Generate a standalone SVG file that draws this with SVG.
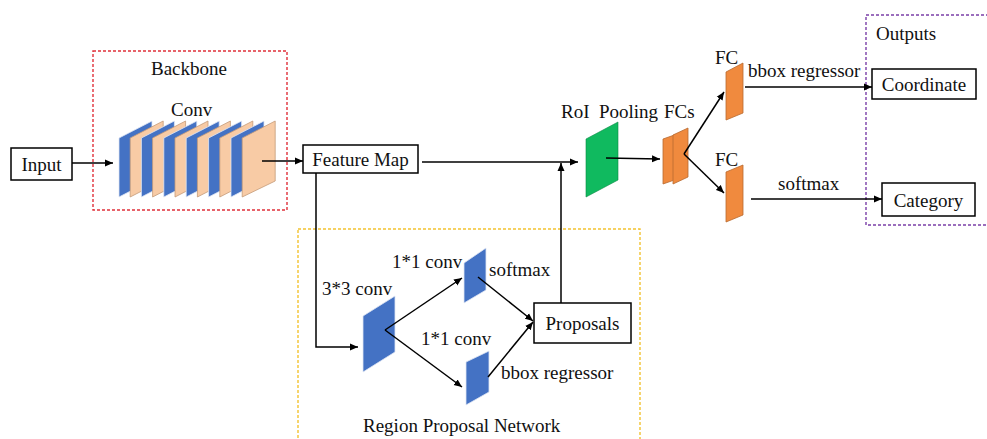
<svg xmlns="http://www.w3.org/2000/svg" width="987" height="439" viewBox="0 0 987 439">
<defs>
<marker id="ah" markerUnits="userSpaceOnUse" markerWidth="9" markerHeight="8" refX="8" refY="4" orient="auto">
<path d="M0,0.5 L8,4 L0,7.5 z" fill="#000"/>
</marker>
<style>
text{font-family:"Liberation Serif","Times New Roman",serif;font-size:19px;fill:#111}
.box{fill:#fff;stroke:#000;stroke-width:1.5}
.con{fill:none;stroke:#000;stroke-width:1.5;marker-end:url(#ah)}
.blue{fill:#4472C4;stroke:#dfe6f4;stroke-width:0.8}
.peach{fill:#F8CBA5;stroke:#c49a78;stroke-width:0.8}
.orange{fill:#F08A3E;stroke:#b86a30;stroke-width:0.8}
.green{fill:#10BA5F;stroke:#0b8a45;stroke-width:0.6}
.mid{text-anchor:middle}
</style>
</defs>
<rect width="987" height="439" fill="#fff"/>

<g id="backbone">
<rect x="93" y="51" width="194" height="159" fill="none" stroke="#E0303A" stroke-width="1.4" stroke-dasharray="3,2"/>
<text x="151" y="75">Backbone</text>
</g>
<g id="rpn">
<rect x="298" y="229" width="342" height="230" fill="none" stroke="#F2C230" stroke-width="1.4" stroke-dasharray="3,2"/>
<text x="363" y="432">Region Proposal Network</text>
</g>
<g id="outputs">
<rect x="866" y="15" width="140" height="210" fill="none" stroke="#7B3FA8" stroke-width="1.4" stroke-dasharray="3,2"/>
<text x="876" y="40">Outputs</text>
</g>

<g id="input">
<rect class="box" x="11" y="148" width="61" height="32"/>
<text class="mid" x="41.5" y="171">Input</text>
</g>

<g id="conv">
<text x="171" y="116">Conv</text>
<polygon class="blue" points="119,138 152,121 152,180 119,197"/>
<polygon class="peach" points="130.2,138 163.2,121 163.2,180 130.2,197"/>
<polygon class="blue" points="141.4,138 174.4,121 174.4,180 141.4,197"/>
<polygon class="peach" points="152.6,138 185.6,121 185.6,180 152.6,197"/>
<polygon class="blue" points="163.8,138 196.8,121 196.8,180 163.8,197"/>
<polygon class="peach" points="175,138 208,121 208,180 175,197"/>
<polygon class="blue" points="186.2,138 219.2,121 219.2,180 186.2,197"/>
<polygon class="peach" points="197.4,138 230.4,121 230.4,180 197.4,197"/>
<polygon class="blue" points="208.6,138 241.6,121 241.6,180 208.6,197"/>
<polygon class="peach" points="219.8,138 252.8,121 252.8,180 219.8,197"/>
<polygon class="blue" points="231,138 264,121 264,180 231,197"/>
<polygon class="peach" points="242.2,138 275.2,121 275.2,181 242.2,197"/>
</g>

<g id="feature-map">
<rect class="box" x="303" y="145" width="115" height="28"/>
<text class="mid" x="360.5" y="166">Feature Map</text>
</g>

<g id="conv3x3">
<polygon class="blue" points="363,316 395,296 395,352 363,372"/>
<text x="322" y="295">3*3 conv</text>
</g>
<g id="cls-conv">
<polygon class="blue" points="464,263 486,248 486,290 464,303"/>
<text x="392" y="268">1*1 conv</text>
<text x="489" y="276">softmax</text>
</g>
<g id="reg-conv">
<polygon class="blue" points="466,362 489,351 489,392 466,405"/>
<text x="421" y="345">1*1 conv</text>
<text x="501" y="379">bbox regressor</text>
</g>
<g id="proposals">
<rect class="box" x="534" y="303" width="97" height="40"/>
<text class="mid" x="582.5" y="330">Proposals</text>
</g>

<g id="roi-pooling">
<polygon class="green" points="586,139 618,122 618,180 586,197"/>
<text x="561" y="118" xml:space="preserve">RoI  Pooling</text>
</g>
<g id="fcs">
<polygon class="orange" points="663,139 680,133 680,178 663,184"/>
<polygon class="orange" points="673,135 688,128 688,177 673,184"/>
<text x="664" y="118">FCs</text>
</g>
<g id="fc-reg">
<polygon class="orange" points="726,72 743,63 743,113 726,120"/>
<text x="715" y="64">FC</text>
<text x="748" y="77">bbox regressor</text>
</g>
<g id="fc-cls">
<polygon class="orange" points="726,172 743,165 743,215 726,222"/>
<text x="715" y="166">FC</text>
<text x="778" y="190">softmax</text>
</g>

<g id="coordinate">
<rect class="box" x="872" y="69" width="104" height="30"/>
<text class="mid" x="924" y="91">Coordinate</text>
</g>
<g id="category">
<rect class="box" x="882" y="183" width="93" height="33"/>
<text class="mid" x="928.5" y="207">Category</text>
</g>

<g id="connectors">
<path class="con" d="M72,163 H113"/>
<path class="con" d="M262,161 H303"/>
<path class="con" d="M422,162 H578"/>
<path class="con" d="M316,173 V347 H358"/>
<path class="con" d="M561,303 V163"/>
<path class="con" d="M385,330 L462,278"/>
<path class="con" d="M385,330 L462,387"/>
<path class="con" d="M478,277 L533,321"/>
<path class="con" d="M488,377 L533,322"/>
<path class="con" d="M606,158 L660,159"/>
<path class="con" d="M684,154 L724,92"/>
<path class="con" d="M684,154 L724,193"/>
<path class="con" d="M745,87 H872"/>
<path class="con" d="M751,199 H882"/>
</g>
</svg>
